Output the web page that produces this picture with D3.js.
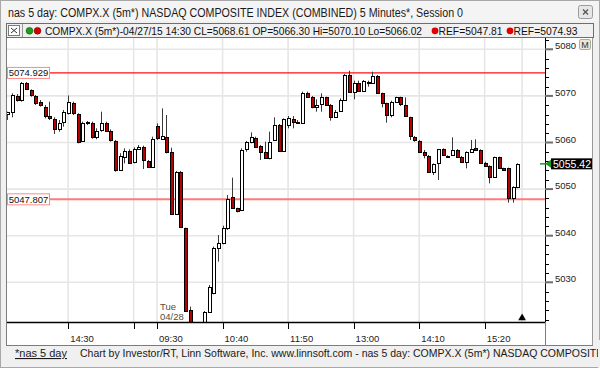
<!DOCTYPE html>
<html>
<head>
<meta charset="utf-8">
<script src="https://cdn.jsdelivr.net/npm/d3@7"></script>
<style>
  body { margin: 0; background: #f0f0f0; }
  svg { display: block; font-family: "Liberation Sans", Arial, sans-serif; }
</style>
</head>
<body>
<svg id="chart" width="600" height="368"></svg>
<script>
// 5 minute bars, 04/27 13:25 .. 16:00 then 04/28 09:30 .. 15:55
const opens = [
  5066.11, 5066.61, 5069.97, 5069.12, 5072.84, 5071.26, 5069.97, 5068.69, 5067.69, 5065.68,
  5064.97, 5062.82, 5064.47, 5066.30, 5068.54, 5066.11, 5060.39, 5064.11, 5064.25, 5061.11,
  5062.68, 5064.11, 5062.54, 5060.39, 5054.10, 5056.96, 5058.25, 5055.89, 5058.60, 5059.10,
  5056.03, 5054.81, 5063.61, 5060.75, 5061.25, 5057.89, 5044.58, 5053.60, 5041.58, 5024.06,
  5017.00, 5015.00, 5019.00, 5023.70, 5027.63, 5037.43, 5038.36, 5041.58, 5048.37, 5045.87,
  5045.51, 5058.60, 5060.18, 5061.03, 5059.32, 5057.89, 5056.60, 5060.54, 5063.76, 5058.25,
  5063.76, 5064.97, 5064.11, 5064.11, 5070.69, 5069.69, 5067.69, 5068.26, 5069.69, 5068.04,
  5065.54, 5066.83, 5069.12, 5074.48, 5070.90, 5072.84, 5071.12, 5072.84, 5072.69, 5074.27,
  5070.55, 5068.40, 5065.90, 5068.76, 5069.69, 5068.04, 5065.40, 5061.25, 5060.39, 5058.03,
  5057.10, 5053.74, 5055.53, 5058.53, 5057.15, 5057.31, 5058.39, 5056.96, 5055.88, 5058.03,
  5058.75, 5058.39, 5055.67, 5054.95, 5052.52, 5056.81, 5054.45, 5054.45, 5048.01, 5050.38
];
const highs = [
  5066.61, 5070.55, 5070.40, 5072.98, 5072.98, 5071.41, 5070.19, 5069.12, 5068.05, 5068.76,
  5065.40, 5064.83, 5066.97, 5070.10, 5068.76, 5066.26, 5064.47, 5064.61, 5064.47, 5063.04,
  5066.61, 5064.47, 5062.82, 5060.54, 5057.68, 5058.75, 5058.53, 5058.96, 5059.46, 5059.32,
  5056.24, 5061.25, 5064.11, 5067.33, 5065.90, 5058.89, 5053.88, 5053.88, 5041.72, 5024.77,
  5019.00, 5020.00, 5023.84, 5029.42, 5037.65, 5040.15, 5042.15, 5048.73, 5052.45, 5046.01,
  5058.75, 5060.32, 5062.18, 5061.25, 5059.46, 5060.18, 5062.32, 5065.40, 5063.97, 5065.18,
  5065.68, 5065.68, 5064.83, 5070.91, 5070.91, 5069.97, 5069.26, 5070.55, 5069.83, 5068.26,
  5066.97, 5069.47, 5074.70, 5075.41, 5073.27, 5073.27, 5073.41, 5073.27, 5075.20, 5074.48,
  5070.69, 5068.54, 5068.97, 5069.83, 5069.83, 5069.69, 5065.54, 5061.39, 5060.54, 5058.39,
  5057.31, 5055.50, 5058.60, 5058.75, 5057.25, 5061.11, 5058.60, 5057.10, 5058.10, 5060.54,
  5060.68, 5058.53, 5055.88, 5055.10, 5056.96, 5056.96, 5054.60, 5054.60, 5050.60, 5055.53
];
const lows = [
  5064.83, 5065.40, 5068.76, 5068.76, 5071.26, 5069.83, 5068.05, 5067.69, 5065.18, 5064.83,
  5061.82, 5062.32, 5063.40, 5066.02, 5065.90, 5059.82, 5060.18, 5063.76, 5060.82, 5060.68,
  5062.32, 5062.32, 5060.18, 5053.74, 5053.95, 5055.53, 5055.39, 5055.53, 5058.39, 5054.31,
  5054.60, 5054.60, 5060.53, 5060.53, 5057.67, 5044.44, 5044.44, 5041.72, 5023.70, 5015.00,
  5013.00, 5013.00, 5018.00, 5023.55, 5027.42, 5034.43, 5038.15, 5041.22, 5045.73, 5045.01,
  5045.30, 5058.03, 5059.82, 5058.89, 5056.24, 5056.46, 5056.39, 5060.39, 5058.03, 5058.03,
  5063.04, 5063.04, 5063.97, 5063.97, 5069.69, 5067.33, 5066.61, 5066.61, 5067.83, 5064.68,
  5065.40, 5066.61, 5068.97, 5070.69, 5069.26, 5070.90, 5070.90, 5071.98, 5072.55, 5070.40,
  5067.54, 5064.25, 5065.40, 5068.54, 5067.83, 5065.54, 5060.54, 5060.18, 5057.90, 5056.60,
  5053.60, 5053.02, 5051.95, 5057.10, 5057.00, 5057.10, 5056.81, 5055.60, 5054.45, 5057.80,
  5058.30, 5055.53, 5054.80, 5051.23, 5052.40, 5054.30, 5053.90, 5047.09, 5047.09, 5050.20
];
const closes = [
  5066.47, 5070.19, 5069.05, 5072.84, 5071.41, 5070.12, 5068.54, 5068.05, 5065.68, 5065.18,
  5062.82, 5064.25, 5066.61, 5068.61, 5066.26, 5060.18, 5064.11, 5064.40, 5061.11, 5062.54,
  5064.11, 5062.54, 5060.54, 5054.10, 5057.10, 5058.25, 5055.67, 5058.53, 5059.10, 5056.24,
  5054.81, 5060.75, 5060.89, 5061.46, 5057.89, 5044.58, 5053.60, 5041.94, 5023.84, 5017.00,
  5015.00, 5019.00, 5023.70, 5029.06, 5037.29, 5038.36, 5041.72, 5047.87, 5045.87, 5045.37,
  5058.39, 5060.03, 5061.25, 5059.10, 5057.89, 5056.60, 5060.18, 5063.76, 5058.25, 5064.97,
  5065.18, 5064.47, 5064.47, 5070.69, 5069.83, 5067.69, 5068.04, 5069.69, 5068.04, 5065.54,
  5066.61, 5069.12, 5074.48, 5070.90, 5072.84, 5071.12, 5073.27, 5073.05, 5074.27, 5070.55,
  5068.54, 5065.90, 5068.76, 5069.69, 5068.26, 5065.68, 5061.39, 5060.54, 5058.03, 5057.31,
  5053.74, 5055.38, 5058.53, 5057.31, 5057.05, 5058.39, 5056.96, 5055.88, 5058.03, 5058.67,
  5058.39, 5055.67, 5054.95, 5052.52, 5056.81, 5054.45, 5054.09, 5048.01, 5050.38, 5055.42
];

const tickIndex  = [13, 27, 32, 46, 60, 74, 88, 102];
const tickLabels = ["14:30", "", "09:30", "10:40", "11:50", "13:00", "14:10", "15:20"];
const priceTicks = [5030, 5040, 5050, 5060, 5070, 5080];
const refLevels  = [5074.929, 5047.807];
const refLegend  = ["REF=5047.81", "REF=5074.93"];
const lastPrice  = 5055.42;
const dayStart   = 32;
const dayLabel   = ["Tue", "04/28"];

const titleText  = "nas 5 day: COMPX.X (5m*) NASDAQ COMPOSITE INDEX (COMBINED) 5 Minutes*, Session 0";
const legendText = "COMPX.X (5m*)-04/27/15 14:30 CL=5068.61 OP=5066.30 Hi=5070.10 Lo=5066.02";
const footerText = "Chart by Investor/RT, Linn Software, Inc. www.linnsoft.com - nas 5 day: COMPX.X (5m*) NASDAQ COMPOSITE INDEX (COMBINED) 5 Minutes*, Session 0";

const svg = d3.select("#chart");

const plot = { left: 7, right: 545, top: 38, bottom: 322 };

const x = d3.scaleLinear().domain([0, closes.length - 1]).range([8.3, 8.3 + (closes.length - 1) * 4.68]);
const y = d3.scaleLinear().domain([5030, 5080]).range([282.3, 49.3]);

// window chrome
svg.append("rect").attr("width", 600).attr("height", 368).attr("fill", "#f0f0f0");
svg.append("rect").attr("x", 0.5).attr("y", 0.5).attr("width", 599).attr("height", 367)
  .attr("fill", "none").attr("stroke", "#a8a8a8");
svg.append("rect").attr("x", 1).attr("y", 1).attr("width", 598).attr("height", 20).attr("fill", "#f4f4f4");

svg.append("text").attr("x", 8).attr("y", 16.5)
  .attr("font-size", 12).attr("fill", "#1a1a1a")
  .attr("textLength", 455).attr("lengthAdjust", "spacingAndGlyphs")
  .text(titleText);

const closeBtn = svg.append("g");
closeBtn.append("rect").attr("x", 578.5).attr("y", 5.5).attr("width", 14).attr("height", 13).attr("rx", 2)
  .attr("fill", "#e6e6e6").attr("stroke", "#9c9c9c");
closeBtn.append("path").attr("d", "M583,9.5 L588,14.5 M588,9.5 L583,14.5")
  .attr("stroke", "#555").attr("stroke-width", 1.3);

// legend bar
svg.append("rect").attr("x", 6.5).attr("y", 23.5).attr("width", 587).attr("height", 14)
  .attr("fill", "#f0f0f0").attr("stroke", "#6e6e6e");
svg.append("rect").attr("x", 8.5).attr("y", 25.5).attr("width", 11).attr("height", 10)
  .attr("fill", "#fff").attr("stroke", "#7a7a7a");
svg.append("path").attr("d", "M11,28 L17,33 M17,28 L11,33").attr("stroke", "#333").attr("stroke-width", 1);
svg.append("line").attr("x1", 22.5).attr("x2", 22.5).attr("y1", 24).attr("y2", 37).attr("stroke", "#9a9a9a");
svg.append("circle").attr("cx", 29.5).attr("cy", 30.8).attr("r", 3.4).attr("fill", "#1b9e1b").attr("stroke", "#0c5c0c").attr("stroke-width", 0.6);
svg.append("circle").attr("cx", 37.5).attr("cy", 30.8).attr("r", 3.4).attr("fill", "#d40000").attr("stroke", "#6a0000").attr("stroke-width", 0.6);
svg.append("text").attr("x", 45).attr("y", 35).attr("font-size", 10.5).attr("fill", "#111")
  .attr("textLength", 377).attr("lengthAdjust", "spacingAndGlyphs").text(legendText);

const refDotX = [435, 510];
refLegend.forEach((t, k) => {
  svg.append("circle").attr("cx", refDotX[k]).attr("cy", 30.8).attr("r", 3.4).attr("fill", "#e00000");
  svg.append("text").attr("x", refDotX[k] + 3.5).attr("y", 35).attr("font-size", 10.5).attr("fill", "#111")
    .attr("textLength", 64).attr("lengthAdjust", "spacingAndGlyphs").text(t);
});

// panels
svg.append("rect").attr("x", plot.left).attr("y", plot.top)
  .attr("width", 592 - plot.left).attr("height", 346 - plot.top).attr("fill", "#fff");
svg.append("line").attr("x1", 6.5).attr("x2", 6.5).attr("y1", plot.top).attr("y2", 346)
  .attr("stroke", "#7c7c7c");
svg.append("line").attr("x1", 592.5).attr("x2", 592.5).attr("y1", plot.top).attr("y2", 346)
  .attr("stroke", "#9a9a9a");
svg.append("line").attr("x1", 6.5).attr("x2", 592.5).attr("y1", 345.5).attr("y2", 345.5)
  .attr("stroke", "#7c7c7c");
svg.append("line").attr("x1", plot.right + 0.5).attr("x2", plot.right + 0.5).attr("y1", plot.bottom).attr("y2", 346)
  .attr("stroke", "#7c7c7c");

// grid
const grid = svg.append("g").attr("stroke", "#e6e6e6").attr("stroke-width", 1.6);
grid.selectAll("line.h").data(priceTicks).join("line").attr("class", "h")
  .attr("x1", plot.left).attr("x2", plot.right)
  .attr("y1", d => y(d)).attr("y2", d => y(d));
grid.selectAll("line.v").data(tickIndex.concat([closes.length])).join("line").attr("class", "v")
  .attr("x1", d => x(d) - 1).attr("x2", d => x(d) - 1)
  .attr("y1", plot.top).attr("y2", plot.bottom);

// reference lines
svg.selectAll("line.ref").data(refLevels).join("line").attr("class", "ref")
  .attr("x1", plot.left).attr("x2", plot.right)
  .attr("y1", d => y(d)).attr("y2", d => y(d))
  .attr("stroke", d => d > lastPrice ? "#ff1010" : "#ff7a7a")
  .attr("stroke-width", d => d > lastPrice ? 1.3 : 2);

// candles
svg.append("clipPath").attr("id", "plotclip").append("rect")
  .attr("x", plot.left).attr("y", plot.top)
  .attr("width", plot.right - plot.left).attr("height", plot.bottom - plot.top);

const bars = d3.range(closes.length).map(i => ({ i, o: opens[i], h: highs[i], l: lows[i], c: closes[i] }));
const candles = svg.append("g").attr("clip-path", "url(#plotclip)")
  .selectAll("g").data(bars).join("g");

candles.append("line")
  .attr("x1", d => Math.round(x(d.i)) - 0.5).attr("x2", d => Math.round(x(d.i)) - 0.5)
  .attr("y1", d => y(d.h)).attr("y2", d => y(d.l))
  .attr("stroke", "#3a3a3a").attr("stroke-width", 1);

candles.append("rect")
  .attr("x", d => Math.round(x(d.i)) - 1.5)
  .attr("y", d => Math.round(y(Math.max(d.o, d.c))) + 0.5)
  .attr("width", 3)
  .attr("height", d => Math.max(1, Math.round(y(Math.min(d.o, d.c))) - Math.round(y(Math.max(d.o, d.c)))))
  .attr("fill", d => d.c >= d.o ? "#ffffff" : "#b80000")
  .attr("stroke", "#000").attr("stroke-width", 1);

// ref labels
const refLab = svg.selectAll("g.reflab").data(refLevels).join("g").attr("class", "reflab");
refLab.append("rect").attr("x", 7.5).attr("y", d => y(d) - 5.5).attr("width", 42).attr("height", 11)
  .attr("fill", "#fff").attr("stroke", "#ff8a8a");
refLab.append("text").attr("x", 28.5).attr("y", d => y(d) + 3.3).attr("text-anchor", "middle")
  .attr("font-size", 9.5).attr("fill", "#111").text(d => d.toFixed(3));

// current bar marker
svg.append("path")
  .attr("d", d3.symbol(d3.symbolTriangle, 26)())
  .attr("transform", `translate(${x(closes.length) - 1},${plot.bottom - 4})`)
  .attr("fill", "#000");

// day label
svg.selectAll("text.day").data(dayLabel).join("text").attr("class", "day")
  .attr("x", x(dayStart) + 2).attr("y", (d, k) => 310 + k * 10)
  .attr("font-size", 9.5).attr("fill", "#5c4a36").text(d => d);

// x axis
svg.append("line").attr("x1", plot.left).attr("x2", plot.right)
  .attr("y1", plot.bottom + 0.5).attr("y2", plot.bottom + 0.5)
  .attr("stroke", "#000").attr("stroke-width", 1.6);
svg.selectAll("line.xt").data(tickIndex).join("line").attr("class", "xt")
  .attr("x1", d => Math.round(x(d)) - 0.5).attr("x2", d => Math.round(x(d)) - 0.5)
  .attr("y1", plot.bottom).attr("y2", plot.bottom + 7)
  .attr("stroke", "#000");
svg.selectAll("text.xl").data(tickIndex).join("text").attr("class", "xl")
  .attr("x", d => x(d) + 1).attr("y", 342)
  .attr("font-size", 9.5).attr("fill", "#222")
  .text((d, k) => tickLabels[k]);

// y axis
svg.append("line").attr("x1", plot.right + 0.5).attr("x2", plot.right + 0.5)
  .attr("y1", plot.top).attr("y2", plot.bottom)
  .attr("stroke", "#000");
const minor = d3.range(5022, 5083, 2).filter(v => v % 10 !== 0);
svg.selectAll("line.ymin").data(minor).join("line").attr("class", "ymin")
  .attr("x1", plot.right).attr("x2", plot.right + 4)
  .attr("y1", d => Math.round(y(d)) + 0.5).attr("y2", d => Math.round(y(d)) + 0.5)
  .attr("stroke", "#000");
svg.selectAll("line.ymaj").data(priceTicks).join("line").attr("class", "ymaj")
  .attr("x1", plot.right).attr("x2", plot.right + 8)
  .attr("y1", d => y(d)).attr("y2", d => y(d))
  .attr("stroke", "#6e6e6e").attr("stroke-width", 2);
svg.selectAll("text.yl").data(priceTicks).join("text").attr("class", "yl")
  .attr("x", 555).attr("y", d => y(d))
  .attr("font-size", 9.5).attr("fill", "#222")
  .text(d => d);

// M button
svg.append("rect").attr("x", 579.5).attr("y", 39.5).attr("width", 11).attr("height", 10).attr("rx", 1.5)
  .attr("fill", "#ece6d6").attr("stroke", "#b4aa90");
svg.append("text").attr("x", 585).attr("y", 47.8).attr("text-anchor", "middle")
  .attr("font-size", 9).attr("fill", "#333").text("M");

// last price marker
const ly = y(lastPrice);
svg.append("line").attr("x1", 540).attr("x2", 546).attr("y1", ly).attr("y2", ly)
  .attr("stroke", "#1a9a1a").attr("stroke-width", 1.5);
svg.append("path").attr("d", `M545,${ly} L551,${ly - 4} L551,${ly + 4} Z`).attr("fill", "#1a9a1a");
svg.append("rect").attr("x", 551).attr("y", ly - 5.5).attr("width", 41).attr("height", 11).attr("fill", "#000");
svg.append("text").attr("x", 553).attr("y", ly + 4).attr("font-size", 10.5).attr("fill", "#fff")
  .attr("textLength", 38).attr("lengthAdjust", "spacingAndGlyphs").text(lastPrice.toFixed(2));

// footer
svg.append("text").attr("x", 15).attr("y", 357).attr("font-size", 11).attr("fill", "#1a1a1a")
  .attr("text-decoration", "underline").text("*nas 5 day");
svg.append("text").attr("x", 80).attr("y", 357).attr("font-size", 10.5).attr("fill", "#1a1a1a")
  .text(footerText);
svg.append("rect").attr("x", 598).attr("y", 340).attr("width", 2).attr("height", 28).attr("fill", "#f0f0f0");
</script>
</body>
</html>
